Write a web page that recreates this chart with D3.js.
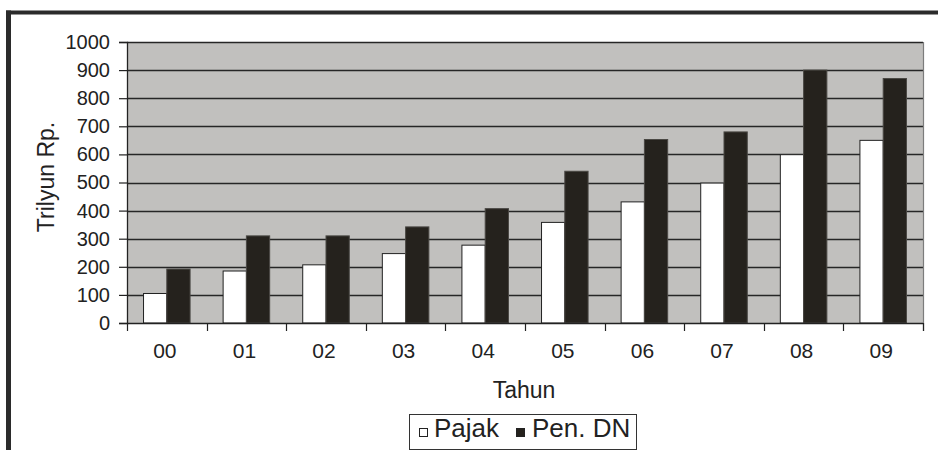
<!DOCTYPE html>
<html>
<head>
<meta charset="utf-8">
<script src="https://cdn.jsdelivr.net/npm/d3@7"></script>
<style>
  html, body { margin: 0; padding: 0; background: #fff; }
  svg { display: block; font-family: "Liberation Sans", Arial, sans-serif; }
</style>
</head>
<body>
<svg id="chart" width="938" height="450"></svg>
<script>
// Indonesian state revenue, trillion rupiah
const years = ["00", "01", "02", "03", "04", "05", "06", "07", "08", "09"];
const pajak = [105, 185, 207, 247, 277, 358, 431, 498, 599, 650];
const penDN = [192, 310, 310, 342, 407, 540, 653, 680, 900, 870];
const seriesNames = ["Pajak", "Pen. DN"];
const yTicks = [0, 100, 200, 300, 400, 500, 600, 700, 800, 900, 1000];

const seriesFill = { "Pajak": "#ffffff", "Pen. DN": "#25221d" };
const seriesStroke = { "Pajak": "#222222", "Pen. DN": "#4a4844" };

const svg = d3.select("#chart");
const W = 938, H = 450;
const plot = { left: 127, right: 923, top: 42, bottom: 323 };
const ink = "#222222";

// outer frame (top and left edges)
svg.append("line").attr("x1", 6).attr("x2", W).attr("y1", 12.5).attr("y2", 12.5)
  .attr("stroke", "#2b2b2b").attr("stroke-width", 4);
svg.append("line").attr("x1", 8.5).attr("x2", 8.5).attr("y1", 10.5).attr("y2", H)
  .attr("stroke", "#2b2b2b").attr("stroke-width", 5);

const x0 = d3.scaleBand().domain(years).range([plot.left, plot.right]).padding(0);
const x1 = d3.scaleBand().domain(seriesNames).range([0, x0.bandwidth()])
  .paddingInner(0).paddingOuter(0.71);
const y = d3.scaleLinear().domain([0, 1000]).range([plot.bottom, plot.top]);

// plot background
svg.append("rect")
  .attr("x", plot.left).attr("y", plot.top)
  .attr("width", plot.right - plot.left).attr("height", plot.bottom - plot.top)
  .attr("fill", "#c1c0be");

// horizontal gridlines
svg.append("g").selectAll("line")
  .data(yTicks.filter(v => v > 0))
  .join("line")
  .attr("x1", plot.left).attr("x2", plot.right)
  .attr("y1", d => Math.round(y(d)) + 0.5).attr("y2", d => Math.round(y(d)) + 0.5)
  .attr("stroke", "#262626").attr("stroke-width", 1.3);

// right edge of plot area
svg.append("line")
  .attr("x1", plot.right + 0.5).attr("x2", plot.right + 0.5)
  .attr("y1", plot.top).attr("y2", plot.bottom + 8)
  .attr("stroke", "#7c7c7c").attr("stroke-width", 1.2);

// bars
const rows = years.map((yr, i) => ({ year: yr, values: [
  { key: "Pajak", value: pajak[i] },
  { key: "Pen. DN", value: penDN[i] }
]}));

const groups = svg.append("g").selectAll("g")
  .data(rows).join("g")
  .attr("transform", d => `translate(${x0(d.year)},0)`);

groups.selectAll("rect")
  .data(d => d.values).join("rect")
  .attr("x", d => x1(d.key))
  .attr("y", d => y(d.value))
  .attr("width", x1.bandwidth())
  .attr("height", d => y(0) - y(d.value))
  .attr("fill", d => seriesFill[d.key])
  .attr("stroke", d => seriesStroke[d.key])
  .attr("stroke-width", 1);

// y axis
const yAxis = d3.axisLeft(y).tickValues(yTicks).tickFormat(d3.format("d"))
  .tickSize(8).tickPadding(9);
const gy = svg.append("g").attr("transform", `translate(${plot.left},0)`).call(yAxis);
gy.select(".domain").attr("stroke", ink).attr("stroke-width", 1.3);
gy.selectAll(".tick line").attr("stroke", ink).attr("stroke-width", 1.2);
gy.selectAll(".tick text").attr("fill", ink)
  .style("font-size", "20px").style("font-family", "Liberation Sans, Arial, sans-serif");

// x axis with ticks at category boundaries
const xAxis = d3.axisBottom(x0).tickSize(0).tickPadding(20);
const gx = svg.append("g").attr("transform", `translate(0,${plot.bottom})`).call(xAxis);
gx.select(".domain").remove();
gx.selectAll(".tick text").attr("fill", ink)
  .style("font-size", "21px").style("font-family", "Liberation Sans, Arial, sans-serif")
  .attr("dx", -2);
svg.append("line")
  .attr("x1", plot.left).attr("x2", plot.right)
  .attr("y1", plot.bottom + 0.5).attr("y2", plot.bottom + 0.5)
  .attr("stroke", ink).attr("stroke-width", 1.4);
const boundaries = years.map(d => x0(d)).concat([plot.right]);
svg.append("g").selectAll("line")
  .data(boundaries).join("line")
  .attr("x1", d => Math.round(d) + 0.5).attr("x2", d => Math.round(d) + 0.5)
  .attr("y1", plot.bottom).attr("y2", plot.bottom + 8)
  .attr("stroke", ink).attr("stroke-width", 1.2);

// axis titles
svg.append("text")
  .attr("x", 524).attr("y", 398)
  .attr("text-anchor", "middle").attr("fill", ink)
  .style("font-size", "23px")
  .text("Tahun");

svg.append("text")
  .attr("transform", "translate(54,177) rotate(-90)")
  .attr("text-anchor", "middle").attr("fill", ink)
  .style("font-size", "23px")
  .text("Trilyun Rp.");

// legend
const legend = svg.append("g");
legend.append("rect")
  .attr("x", 409.5).attr("y", 414.5).attr("width", 227).attr("height", 35)
  .attr("fill", "#ffffff").attr("stroke", "#333333").attr("stroke-width", 1);
const legendItems = [
  { key: "Pajak", sx: 419, tx: 434 },
  { key: "Pen. DN", sx: 516, tx: 532 }
];
legend.selectAll("rect.sw").data(legendItems).join("rect")
  .attr("class", "sw")
  .attr("x", d => d.sx + 0.5).attr("y", 428.5)
  .attr("width", 8).attr("height", 8)
  .attr("fill", d => seriesFill[d.key])
  .attr("stroke", "#222222").attr("stroke-width", 1);
legend.selectAll("text").data(legendItems).join("text")
  .attr("x", d => d.tx).attr("y", 437)
  .attr("fill", ink)
  .style("font-size", "26px")
  .text(d => d.key);
</script>
</body>
</html>
